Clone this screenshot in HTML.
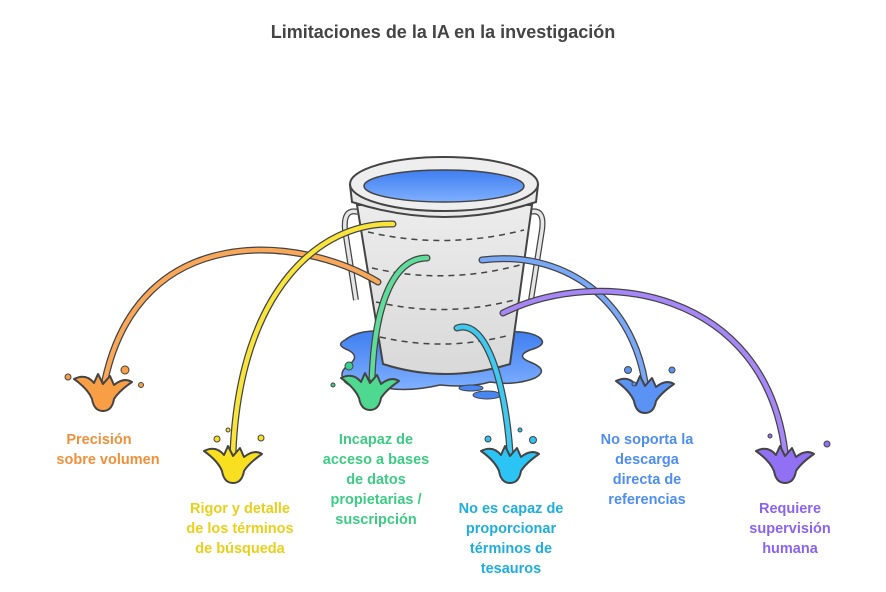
<!DOCTYPE html>
<html><head><meta charset="utf-8"><style>
body{margin:0;background:#fff;width:886px;height:592px;overflow:hidden}
svg{display:block}
text{font-family:"Liberation Sans",sans-serif;font-weight:bold;text-anchor:middle}
</style></head><body>
<svg width="886" height="592" viewBox="0 0 886 592">
<defs>
<linearGradient id="wg" x1="0" y1="0" x2="0" y2="1"><stop offset="0" stop-color="#3f7ef0"/><stop offset="1" stop-color="#7fb0ff"/></linearGradient>
<linearGradient id="bg" x1="0" y1="0" x2="0" y2="1"><stop offset="0" stop-color="#ececec"/><stop offset="1" stop-color="#d9d9d9"/></linearGradient>
<g id="spl"><path d="M-29,-8 Q-17,-14 -9,-4 L-5,-13 L0,-3 L7,-11 L11,-2 Q21,-10 29,-5 Q16,4 11,12 Q9,24 0,24 Q-9,24 -11,12 Q-15,2 -29,-8 Z" stroke="#444" stroke-width="2" stroke-linejoin="round"/></g>
</defs>
<text x="443" y="38" font-size="18" fill="#444">Limitaciones de la IA en la investigación</text>

<!-- puddle -->
<path d="M345,340 Q360,328 390,332 L500,332 Q530,330 540,338 Q548,345 530,350 Q515,356 530,362 Q550,370 535,378 Q515,386 490,382 Q470,388 440,385 Q410,392 385,388 Q355,392 345,382 Q337,372 350,364 Q360,356 348,350 Q335,345 345,340 Z" fill="url(#wg)" stroke="#444" stroke-width="1.5"/>
<ellipse cx="471" cy="388" rx="12" ry="3" fill="#4a86f0" stroke="#444" stroke-width="1"/>
<ellipse cx="487" cy="395" rx="14" ry="4" fill="#4a86f0" stroke="#444" stroke-width="1"/>
<circle cx="349" cy="366" r="4" fill="#3ecf8e" stroke="#444" stroke-width="1"/>
<circle cx="333" cy="385" r="2" fill="#3ecf8e" stroke="#444" stroke-width="1"/>

<!-- handles -->
<path d="M358,212 Q343,208 345,230 L356,300" fill="none" stroke="#444" stroke-width="6"/>
<path d="M358,212 Q343,208 345,230 L356,300" fill="none" stroke="#e6e6e6" stroke-width="3.5"/>
<path d="M530,212 Q545,208 542,230 L531,300" fill="none" stroke="#444" stroke-width="6"/>
<path d="M530,212 Q545,208 542,230 L531,300" fill="none" stroke="#e6e6e6" stroke-width="3.5"/>
<!-- body -->
<path d="M357,205 L383,364 Q445,384 510,364 L532,205 Z" fill="url(#bg)" stroke="#444" stroke-width="2"/>
<g fill="none" stroke="#444" stroke-width="1.5" stroke-dasharray="6,5">
<path d="M368,232 Q445,250 524,230"/>
<path d="M372,268 Q445,285 520,265"/>
<path d="M376,302 Q445,318 514,300"/>
<path d="M380,337 Q445,352 510,335"/>
</g>
<!-- rim -->
<path d="M350,185 L352,202 Q445,232 536,202 L538,185 Z" fill="#e8e8e8" stroke="#444" stroke-width="2"/>
<ellipse cx="444" cy="184" rx="94" ry="27" fill="#eeeeee" stroke="#444" stroke-width="2"/>
<ellipse cx="444" cy="186" rx="80" ry="16" fill="url(#wg)" stroke="#444" stroke-width="1.5"/>

<!-- streams -->
<g fill="none" stroke-linecap="round">
<path d="M378,282 C300,235 140,220 105,380" stroke="#444" stroke-width="7"/>
<path d="M378,282 C300,235 140,220 105,380" stroke="#f8a858" stroke-width="4.5"/>
<path d="M393,224 C320,222 240,290 233,452" stroke="#444" stroke-width="7"/>
<path d="M393,224 C320,222 240,290 233,452" stroke="#f8e43a" stroke-width="4.5"/>
<path d="M427,258 C395,258 375,300 372,378" stroke="#444" stroke-width="7"/>
<path d="M427,258 C395,258 375,300 372,378" stroke="#5fdc9a" stroke-width="4.5"/>
<path d="M457,328 C485,318 505,380 510,452" stroke="#444" stroke-width="7"/>
<path d="M457,328 C485,318 505,380 510,452" stroke="#3fc8f0" stroke-width="4.5"/>
<path d="M482,260 C560,250 630,295 645,382" stroke="#444" stroke-width="7"/>
<path d="M482,260 C560,250 630,295 645,382" stroke="#79a8f8" stroke-width="4.5"/>
<path d="M503,313 C600,265 765,290 785,452" stroke="#444" stroke-width="7"/>
<path d="M503,313 C600,265 765,290 785,452" stroke="#a787f8" stroke-width="4.5"/>
</g>

<!-- splashes -->
<use href="#spl" x="103" y="387" fill="#f89f45"/>
<circle cx="125" cy="370" r="4" fill="#f89f45" stroke="#444" stroke-width="1"/><circle cx="68" cy="377" r="3" fill="#f89f45" stroke="#444" stroke-width="1"/><circle cx="141" cy="385" r="2.5" fill="#f89f45" stroke="#444" stroke-width="1"/>
<use href="#spl" x="233" y="459" fill="#f8e020"/>
<circle cx="217" cy="439" r="3" fill="#f8e020" stroke="#444" stroke-width="1"/><circle cx="228" cy="430" r="2" fill="#f8e020" stroke="#444" stroke-width="1"/><circle cx="261" cy="438" r="3" fill="#f8e020" stroke="#444" stroke-width="1"/>
<use href="#spl" x="370" y="386" fill="#4fd890"/>
<use href="#spl" x="510" y="459" fill="#2cc4f4"/>
<circle cx="488" cy="439" r="3" fill="#2cc4f4" stroke="#444" stroke-width="1"/><circle cx="520" cy="430" r="2" fill="#2cc4f4" stroke="#444" stroke-width="1"/><circle cx="533" cy="440" r="3.5" fill="#2cc4f4" stroke="#444" stroke-width="1"/>
<use href="#spl" x="645" y="389" fill="#5b93f4"/>
<circle cx="628" cy="370" r="3.5" fill="#5b93f4" stroke="#444" stroke-width="1"/><circle cx="672" cy="370" r="3" fill="#5b93f4" stroke="#444" stroke-width="1"/><circle cx="634" cy="384" r="2" fill="#5b93f4" stroke="#444" stroke-width="1"/>
<use href="#spl" x="785" y="459" fill="#9270f4"/>
<circle cx="770" cy="436" r="2" fill="#9270f4" stroke="#444" stroke-width="1"/><circle cx="827" cy="444" r="3" fill="#9270f4" stroke="#444" stroke-width="1"/>

<!-- labels -->
<g font-size="14.5">
<text fill="#f0903a"><tspan x="99" y="444">Precisión</tspan><tspan x="108" y="464">sobre volumen</tspan></text>
<text fill="#ead01a"><tspan x="240" y="513">Rigor y detalle</tspan><tspan x="240" y="533">de los términos</tspan><tspan x="240" y="553">de búsqueda</tspan></text>
<text fill="#3ccc84"><tspan x="376" y="444">Incapaz de</tspan><tspan x="376" y="464">acceso a bases</tspan><tspan x="376" y="484">de datos</tspan><tspan x="376" y="504">propietarias /</tspan><tspan x="376" y="524">suscripción</tspan></text>
<text fill="#1eaee0"><tspan x="511" y="513">No es capaz de</tspan><tspan x="511" y="533">proporcionar</tspan><tspan x="511" y="553">términos de</tspan><tspan x="511" y="573">tesauros</tspan></text>
<text fill="#4e8ef0"><tspan x="647" y="444">No soporta la</tspan><tspan x="647" y="464">descarga</tspan><tspan x="647" y="484">directa de</tspan><tspan x="647" y="504">referencias</tspan></text>
<text fill="#8a63f2"><tspan x="790" y="513">Requiere</tspan><tspan x="790" y="533">supervisión</tspan><tspan x="790" y="553">humana</tspan></text>
</g>
</svg>
</body></html>
